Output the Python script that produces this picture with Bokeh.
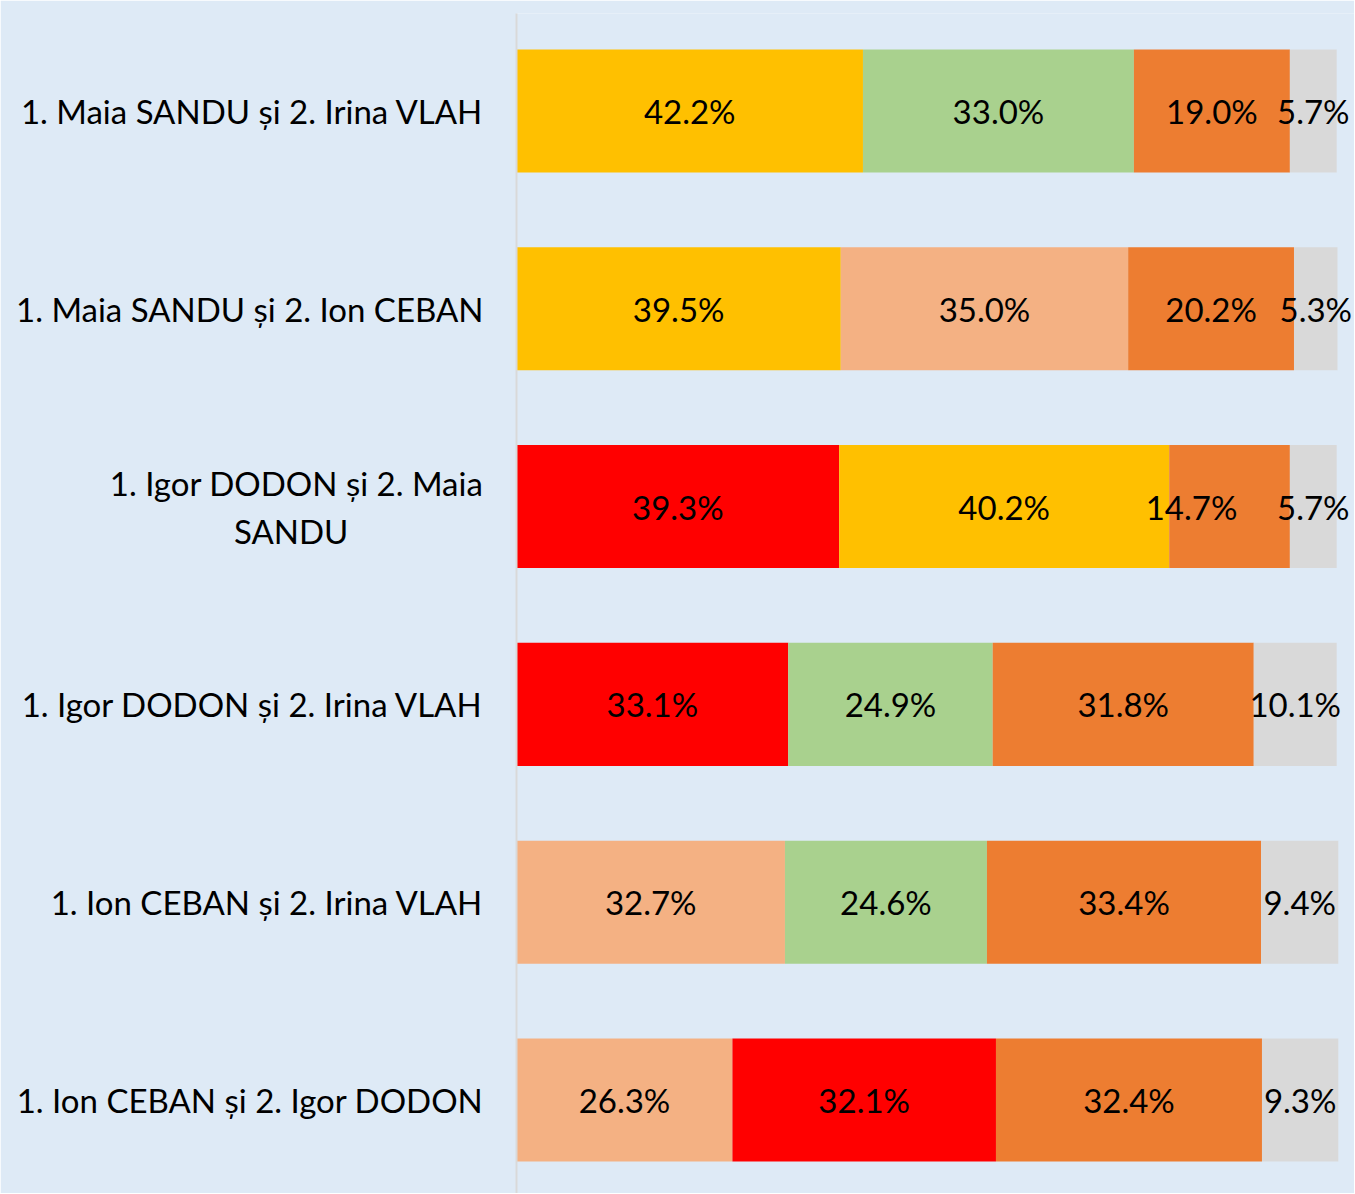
from bokeh.plotting import figure
from bokeh.models import ColumnDataSource, Range1d, FixedTicker
from bokeh.core.properties import value
from bokeh.embed import file_html
from bokeh.resources import INLINE

categories = [
    "1. Maia SANDU și 2. Irina VLAH",
    "1. Maia SANDU și 2. Ion CEBAN",
    "1. Igor DODON și 2. Maia\nSANDU" + "\u00a0" * 16,
    "1. Igor DODON și 2. Irina VLAH",
    "1. Ion CEBAN și 2. Irina VLAH",
    "1. Ion CEBAN și 2. Igor DODON",
]
first_cand = ["SANDU", "SANDU", "DODON", "DODON", "CEBAN", "CEBAN"]
second_cand = ["VLAH", "CEBAN", "SANDU", "VLAH", "VLAH", "DODON"]
first_vals = [42.2, 39.5, 39.3, 33.1, 32.7, 26.3]
second_vals = [33.0, 35.0, 40.2, 24.9, 24.6, 32.1]
third_vals = [19.0, 20.2, 14.7, 31.8, 33.4, 32.4]
fourth_vals = [5.7, 5.3, 5.7, 10.1, 9.4, 9.3]

cand_colors = {"SANDU": "#FFC000", "VLAH": "#A9D18E", "CEBAN": "#F4B183", "DODON": "#FF0000"}
third_color = "#ED7D31"
fourth_color = "#D9D9D9"
bg = "#DEEAF6"
FONT = "Lato"
# manual label nudge in screen pixels: (series index, row index) -> dx
label_nudge = {(2, 2): -38}

rows = list(range(len(categories)))

p = figure(width=1354, height=1193, output_backend="svg", toolbar_location=None,
           x_range=Range1d(0, 102.07), y_range=Range1d(5.473, -0.493),
           min_border_left=516, min_border_right=0, min_border_top=13, min_border_bottom=0)
p.background_fill_color = bg
p.border_fill_color = bg
p.outline_line_color = None
p.grid.visible = False
p.xaxis.visible = False

series = [
    (first_vals, [cand_colors[c] for c in first_cand]),
    (second_vals, [cand_colors[c] for c in second_cand]),
    (third_vals, [third_color] * len(rows)),
    (fourth_vals, [fourth_color] * len(rows)),
]

left = [0.0] * len(rows)
for si, (vals, cols) in enumerate(series):
    right = [l + v for l, v in zip(left, vals)]
    src = ColumnDataSource(dict(
        y=rows, left=left, right=right, color=cols,
        mid=[(l + r) / 2 for l, r in zip(left, right)],
        label=[f"{v:.1f}%" for v in vals],
        dx=[label_nudge.get((si, r), 0) for r in rows],
    ))
    p.hbar(y="y", left="left", right="right", height=0.622, fill_color="color",
           line_color=None, source=src)
    p.text(x="mid", y="y", text="label", source=src, x_offset="dx", text_align="center",
           text_baseline="middle", text_font=value(FONT), text_font_size="33px",
           text_color="#000000")
    left = right

yax = p.yaxis[0]
yax.ticker = FixedTicker(ticks=rows)
yax.major_label_overrides = {i: c for i, c in zip(rows, categories)}
yax.major_label_text_font = FONT
yax.major_label_text_font_size = "33px"
yax.major_label_text_color = "#000000"
yax.major_label_standoff = 27
yax.major_tick_line_color = None
yax.minor_tick_line_color = None
yax.axis_line_color = "#D9D9D9"
yax.axis_line_width = 2

open("out.html", "w").write(file_html(p, INLINE))
